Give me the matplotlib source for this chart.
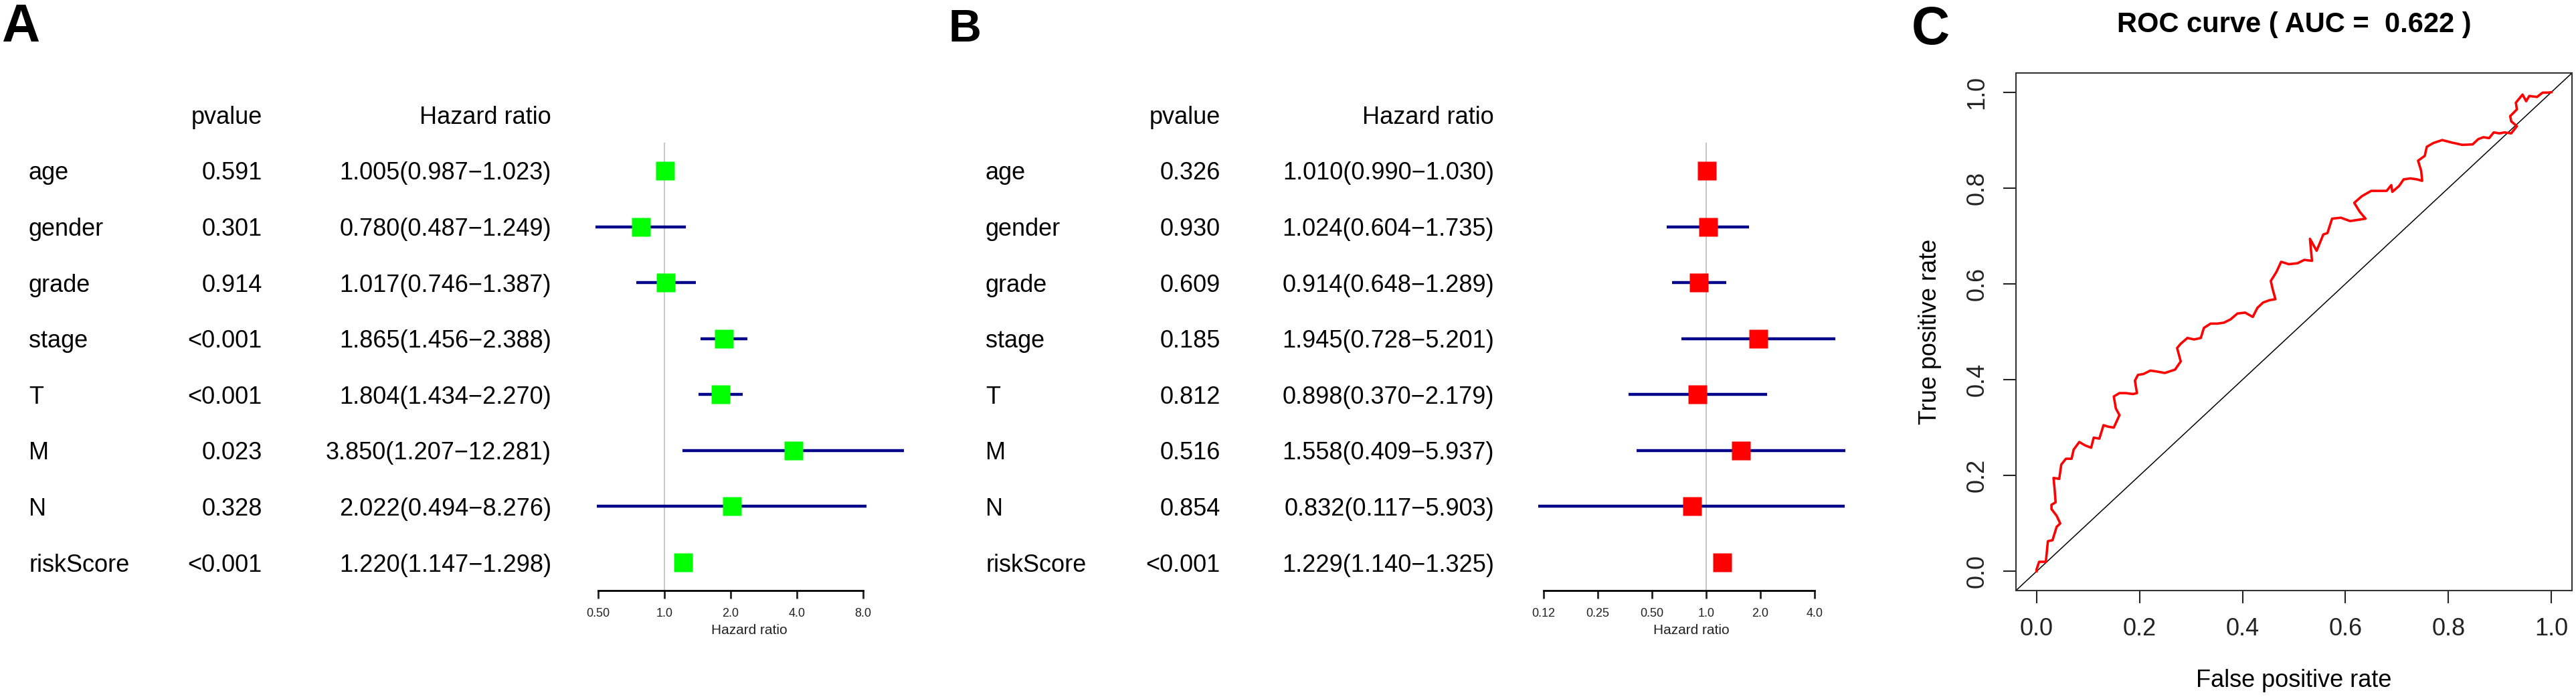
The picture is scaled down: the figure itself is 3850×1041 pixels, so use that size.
import numpy as np
import matplotlib
matplotlib.use("Agg")
import matplotlib.pyplot as plt
from matplotlib.transforms import blended_transform_factory
from matplotlib.ticker import NullLocator

plt.rcParams['font.family'] = ['Liberation Sans', 'DejaVu Sans']

# ---- data ----
variables = ['age', 'gender', 'grade', 'stage', 'T', 'M', 'N', 'riskScore']

# panel A (univariate)
pval_a = ['0.591', '0.301', '0.914', '<0.001', '<0.001', '0.023', '0.328', '<0.001']
hr_a = [1.005, 0.780, 1.017, 1.865, 1.804, 3.850, 2.022, 1.220]
low_a = [0.987, 0.487, 0.746, 1.456, 1.434, 1.207, 0.494, 1.147]
high_a = [1.023, 1.249, 1.387, 2.388, 2.270, 12.281, 8.276, 1.298]

# panel B (multivariate)
pval_b = ['0.326', '0.930', '0.609', '0.185', '0.812', '0.516', '0.854', '<0.001']
hr_b = [1.010, 1.024, 0.914, 1.945, 0.898, 1.558, 0.832, 1.229]
low_b = [0.990, 0.604, 0.648, 0.728, 0.370, 0.409, 0.117, 1.140]
high_b = [1.030, 1.735, 1.289, 5.201, 2.179, 5.937, 5.903, 1.325]

ticks_a = [0.5, 1, 2, 4, 8]
ticklabels_a = ['0.50', '1.0', '2.0', '4.0', '8.0']
ticks_b = [0.125, 0.25, 0.5, 1, 2, 4]
ticklabels_b = ['0.12', '0.25', '0.50', '1.0', '2.0', '4.0']

# panel C (ROC curve)
fpr = [0.000, 0.000, 0.005, 0.018, 0.022, 0.031, 0.039, 0.046, 0.039, 0.029,
       0.029, 0.037, 0.035, 0.033, 0.044, 0.048, 0.057, 0.068, 0.072, 0.083,
       0.094, 0.106, 0.111, 0.122, 0.130, 0.139, 0.150, 0.161, 0.154, 0.150,
       0.161, 0.174, 0.187, 0.195, 0.191, 0.197, 0.208, 0.221, 0.234, 0.249,
       0.269, 0.280, 0.273, 0.280, 0.293, 0.306, 0.319, 0.325, 0.338, 0.351,
       0.364, 0.377, 0.390, 0.405, 0.420, 0.429, 0.440, 0.453, 0.464, 0.459,
       0.455, 0.466, 0.475, 0.490, 0.507, 0.520, 0.535, 0.531, 0.544, 0.557,
       0.565, 0.574, 0.591, 0.609, 0.639, 0.628, 0.617, 0.632, 0.650, 0.667,
       0.680, 0.689, 0.691, 0.704, 0.713, 0.726, 0.739, 0.749, 0.747, 0.741,
       0.754, 0.758, 0.771, 0.788, 0.806, 0.827, 0.847, 0.858, 0.868, 0.879,
       0.888, 0.899, 0.909, 0.922, 0.933, 0.922, 0.920, 0.933, 0.931, 0.944,
       0.951, 0.957, 0.972, 0.983, 0.994, 1.000]
tpr = [0.000, 0.004, 0.020, 0.020, 0.063, 0.065, 0.093, 0.100, 0.116, 0.130,
       0.139, 0.144, 0.172, 0.195, 0.193, 0.223, 0.235, 0.235, 0.254, 0.270,
       0.263, 0.258, 0.279, 0.277, 0.305, 0.302, 0.300, 0.326, 0.340, 0.365,
       0.372, 0.372, 0.370, 0.372, 0.398, 0.410, 0.412, 0.419, 0.417, 0.414,
       0.421, 0.438, 0.466, 0.475, 0.487, 0.484, 0.487, 0.508, 0.517, 0.517,
       0.519, 0.526, 0.538, 0.540, 0.531, 0.550, 0.561, 0.566, 0.568, 0.587,
       0.606, 0.625, 0.646, 0.641, 0.643, 0.650, 0.648, 0.694, 0.669, 0.703,
       0.706, 0.736, 0.738, 0.731, 0.736, 0.750, 0.769, 0.783, 0.794, 0.794,
       0.794, 0.806, 0.792, 0.804, 0.818, 0.820, 0.818, 0.815, 0.836, 0.857,
       0.867, 0.886, 0.894, 0.900, 0.895, 0.890, 0.891, 0.902, 0.906, 0.904,
       0.916, 0.914, 0.916, 0.914, 0.929, 0.939, 0.950, 0.964, 0.978, 0.995,
       0.981, 0.992, 0.990, 0.999, 0.999, 1.000]
auc = 0.622

W, H = 3850, 1041
fig = plt.figure(figsize=(W / 100, H / 100), dpi=100)


def px_rect(left, right, top, bottom):
    return [left / W, 1 - bottom / H, (right - left) / W, (bottom - top) / H]


def forest(ref_px, ppu, xlim, pvals, hr, low, high, color, ticks, ticklabels,
           lab_x, p_x, hr_x, letter, letter_x, letter_size):
    left = ref_px + np.log2(xlim[0]) * ppu
    right = ref_px + np.log2(xlim[1]) * ppu
    ax = fig.add_axes(px_rect(left, right, 213.2, 881.8))
    rows = np.arange(len(hr))
    ax.set_xscale('log', base=2)
    ax.set_xlim(*xlim)
    ax.set_ylim(len(hr) - 0.5, -0.5)
    ax.axvline(1, color='#bdbdbd', lw=1.2, zorder=1)
    ax.hlines(rows, low, high, color='#00008b', lw=3.2, zorder=2)
    ax.plot(hr, rows, 's', color=color, ms=19.5, mec='none', zorder=3)
    for s in ['top', 'right', 'left']:
        ax.spines[s].set_visible(False)
    ax.spines['bottom'].set_bounds(ticks[0], ticks[-1])
    ax.spines['bottom'].set_linewidth(2)
    ax.set_yticks([])
    ax.set_xticks(ticks)
    ax.set_xticklabels(ticklabels)
    ax.xaxis.set_minor_locator(NullLocator())
    ax.tick_params(axis='x', length=8.6, width=2, pad=10, labelsize=13,
                   colors='#222222')
    ax.set_xlabel('Hazard ratio', fontsize=15, labelpad=5, color='#222222')
    ax.patch.set_alpha(0)

    tr = blended_transform_factory(fig.transFigure, ax.transData)
    fs = 26
    ax.text(p_x / W, -1, 'pvalue', transform=tr, ha='right',
            va='center_baseline', fontsize=fs)
    ax.text(hr_x / W, -1, 'Hazard ratio', transform=tr, ha='right',
            va='center_baseline', fontsize=fs)
    for i, name in enumerate(variables):
        ax.text(lab_x / W, i, name, transform=tr, ha='left',
                va='center_baseline', fontsize=fs)
        ax.text(p_x / W, i, pvals[i], transform=tr, ha='right',
                va='center_baseline', fontsize=fs)
        txt = f'{hr[i]:.3f}({low[i]:.3f}\u2212{high[i]:.3f})'
        ax.text(hr_x / W, i, txt, transform=tr, ha='right',
                va='center_baseline', fontsize=fs)
    fig.text(letter_x / W, 1 - 62 / H, letter, fontsize=letter_size,
             fontweight='bold', ha='left', va='baseline')
    return ax


forest(993, 99, (0.47, 12.6), pval_a, hr_a, low_a, high_a, '#00ff00',
       ticks_a, ticklabels_a, 43, 392, 824, 'A', 2, 57)
forest(2550, 81, (0.113, 6.1), pval_b, hr_b, low_b, high_b, '#ff0000',
       ticks_b, ticklabels_b, 1473, 1824, 2233, 'B', 1418, 49)

# ---- ROC ----
axc = fig.add_axes(px_rect(3013, 3844, 109, 882))
axc.plot(fpr, tpr, color='#ff0000', lw=2.6, zorder=3)
axc.axline((0, 0), (1, 1), color='black', lw=1.1, zorder=2)
axc.set_xlim(-0.04, 1.04)
axc.set_ylim(-0.04, 1.04)
ticks = np.arange(0, 1.01, 0.2)
axc.set_xticks(ticks)
axc.set_yticks(ticks)
axc.set_xticklabels([f'{t:.1f}' for t in ticks])
axc.set_yticklabels([f'{t:.1f}' for t in ticks])
axc.tick_params(length=14, width=1.5, labelsize=26, pad=15, colors='#222222')
axc.tick_params(axis='y', labelrotation=90)
for lab in axc.get_yticklabels():
    lab.set_va('center')
for s in axc.spines.values():
    s.set_linewidth(1.5)
    s.set_color('#333333')
axc.set_xlabel('False positive rate', fontsize=26, labelpad=30)
axc.set_ylabel('True positive rate', fontsize=26, labelpad=26)
axc.set_title(f'ROC curve ( AUC =  {auc:.3f} )', fontsize=30,
              fontweight='bold', pad=44)
fig.text(2857 / W, 1 - 66 / H, 'C', fontsize=57, fontweight='bold',
         ha='left', va='baseline')

fig.savefig('out.png', dpi=100)
